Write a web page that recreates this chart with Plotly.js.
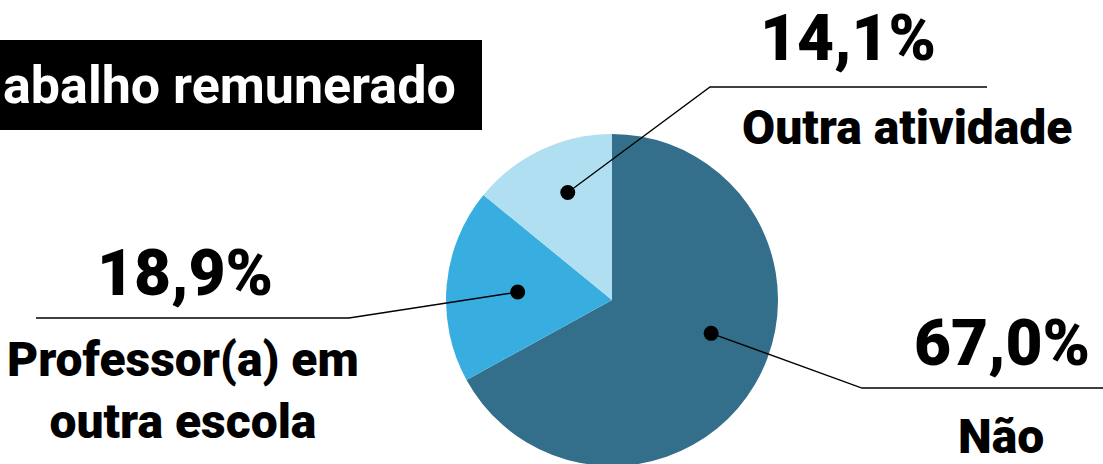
<!DOCTYPE html>
<html>
<head>
<meta charset="utf-8">
<script src="https://cdn.plot.ly/plotly-3.0.1.min.js"></script>
<style>
html,body{margin:0;padding:0;overflow:hidden;background:#fff;}
#chart{width:1103px;height:470px;}
</style>
</head>
<body>
<div id="chart"></div>
<script>
// ---- data ----
const categories = ['Não', 'Professor(a) em<br>outra escola', 'Outra atividade'];
const values = [67.0, 18.9, 14.1];
const pctLabels = ['67,0%', '18,9%', '14,1%'];
const sliceColors = ['#336f8a', '#38aee0', '#b1dff2'];
const titleText = 'abalho remunerado';

// ---- layout / style ----
const W = 1103, H = 470;
const cx = 612, cy = 300, R = 166;
// per-slice callout styling: dot radius fraction, angle tweak, elbow, line end, text anchors
const dotR = [0.63, 0.57, 0.70];
const dotAngleTweak = [-12, -0.4, 3];
const elbows = [[862, 388], [349, 318], [710, 87]];
const lineEnds = [[1103, 388], [36, 318], [987, 87]];
const pctPos = [[1002, 343], [185, 273], [848, 38]];
const labPos = [[1001, 436], [183, 390], [907, 127]];

const total = values.reduce((a, b) => a + b, 0);
let cum = 0;
const dots = values.map((v, i) => {
  const mid = (cum + v / 2) / total * 360 + dotAngleTweak[i];
  cum += v;
  const a = mid * Math.PI / 180;
  return [cx + R * dotR[i] * Math.sin(a), cy - R * dotR[i] * Math.cos(a)];
});

const traces = [{
  type: 'pie',
  values: values,
  labels: categories,
  sort: false,
  direction: 'clockwise',
  rotation: 0,
  textinfo: 'none',
  hoverinfo: 'none',
  marker: {colors: sliceColors, line: {width: 0}},
  domain: {x: [(cx - R) / W, (cx + R) / W], y: [(H - (cy + R)) / H, (H - (cy - R)) / H]},
  showlegend: false
}];

const shapes = [{type: 'rect', xref: 'x', yref: 'y', x0: -10, x1: 482, y0: 40, y1: 130,
                 fillcolor: '#000', line: {width: 0}, layer: 'above'}];
const dotRad = 7.5;
values.forEach((v, i) => {
  const d = dots[i], e = elbows[i], f = lineEnds[i];
  shapes.push({type: 'path', xref: 'x', yref: 'y', layer: 'above',
    path: 'M' + d[0] + ',' + d[1] + ' L' + e[0] + ',' + e[1] + ' L' + f[0] + ',' + f[1],
    line: {color: '#000', width: 1.3}});
  shapes.push({type: 'circle', xref: 'x', yref: 'y', layer: 'above',
    x0: d[0] - dotRad, x1: d[0] + dotRad, y0: d[1] - dotRad, y1: d[1] + dotRad,
    fillcolor: '#000', line: {width: 0}});
});

const annotations = [];
values.forEach((v, i) => {
  annotations.push({
    xref: 'x', yref: 'y', x: pctPos[i][0], y: pctPos[i][1],
    text: pctLabels[i], showarrow: false, xanchor: 'center', yanchor: 'middle',
    font: {family: 'Roboto, sans-serif', size: 64, color: '#000', weight: 900}
  });
  annotations.push({
    xref: 'x', yref: 'y', x: labPos[i][0], y: labPos[i][1],
    text: categories[i], showarrow: false, xanchor: 'center', yanchor: 'middle',
    font: {family: 'Roboto, sans-serif', size: 48, color: '#000', weight: 900}
  });
});
annotations.push({
  xref: 'x', yref: 'y', x: 1, y: 85,
  text: titleText, showarrow: false, xanchor: 'left', yanchor: 'middle',
  font: {family: 'Roboto, sans-serif', size: 52, color: '#fff', weight: 'bold'}
});

const layout = {
  width: W, height: H,
  margin: {l: 0, r: 0, t: 0, b: 0},
  paper_bgcolor: '#fff', plot_bgcolor: 'rgba(0,0,0,0)',
  xaxis: {range: [0, W], visible: false, fixedrange: true},
  yaxis: {range: [H, 0], visible: false, fixedrange: true},
  shapes: shapes,
  annotations: annotations,
  showlegend: false
};

Plotly.newPlot('chart', traces, layout, {staticPlot: true, displayModeBar: false});
</script>
</body>
</html>
